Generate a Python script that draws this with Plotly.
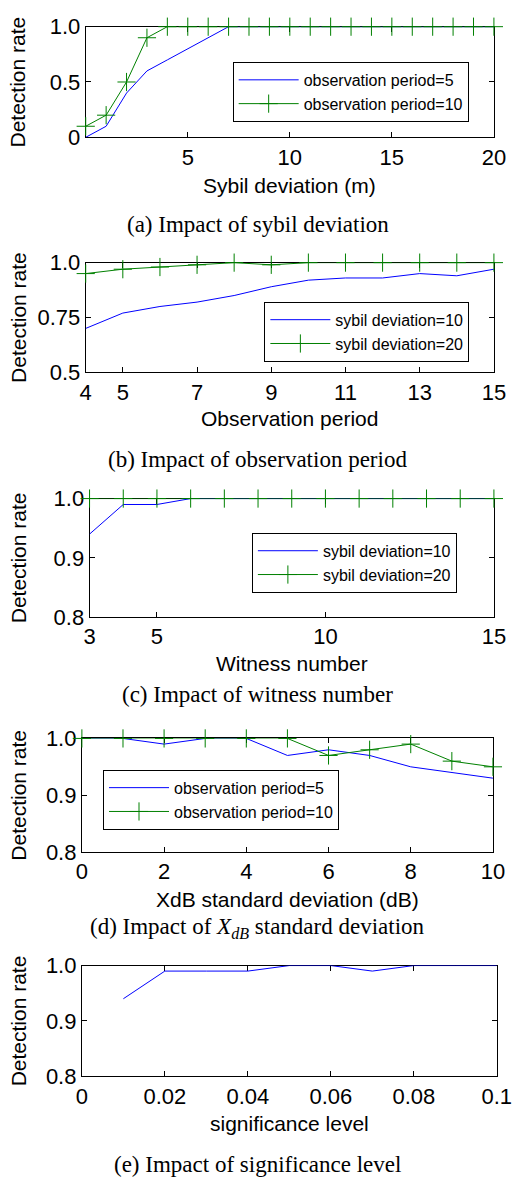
import plotly.graph_objects as go

W, H = 531, 1191

# ---------------- data ----------------
# (a) Impact of sybil deviation
a_x = list(range(0, 21))
a_period5 = [0.0, 0.1, 0.4, 0.6, 0.7, 0.8, 0.9, 1.0, 1.0, 1.0, 1.0, 1.0, 1.0, 1.0, 1.0, 1.0, 1.0, 1.0, 1.0, 1.0, 1.0]
a_period10 = [0.1, 0.2, 0.5, 0.9, 1.0, 1.0, 1.0, 1.0, 1.0, 1.0, 1.0, 1.0, 1.0, 1.0, 1.0, 1.0, 1.0, 1.0, 1.0, 1.0, 1.0]

# (b) Impact of observation period
b_x = list(range(4, 16))
b_dev10 = [0.70, 0.77, 0.80, 0.82, 0.85, 0.89, 0.92, 0.93, 0.93, 0.95, 0.94, 0.97]
b_dev20 = [0.95, 0.97, 0.98, 0.99, 1.00, 0.99, 1.00, 1.00, 1.00, 1.00, 1.00, 1.00]

# (c) Impact of witness number
c_x = list(range(3, 16))
c_dev10 = [0.94, 0.99, 0.99, 1.0, 1.0, 1.0, 1.0, 1.0, 1.0, 1.0, 1.0, 1.0, 1.0]
c_dev20 = [1.0] * 13

# (d) Impact of XdB standard deviation
d_x = list(range(0, 11))
d_period5 = [1.0, 1.0, 0.99, 1.0, 1.0, 0.97, 0.98, 0.97, 0.95, 0.94, 0.93]
d_period10 = [1.0, 1.0, 1.0, 1.0, 1.0, 1.0, 0.97, 0.98, 0.99, 0.96, 0.95]

# (e) Impact of significance level
e_x = [0.01, 0.02, 0.03, 0.04, 0.05, 0.06, 0.07, 0.08, 0.09, 0.10]
e_rate = [0.94, 0.99, 0.99, 0.99, 1.0, 1.0, 0.99, 1.0, 1.0, 1.0]

# tick labels
a_xticks = [5, 10, 15, 20]
a_yticks = [0, 0.5, 1.0]
a_ytext = ["0", "0.5", "1.0"]
b_xticks = [4, 5, 7, 9, 11, 13, 15]
b_yticks = [0.5, 0.75, 1.0]
b_ytext = ["0.5", "0.75", "1.0"]
c_xticks = [3, 5, 10, 15]
y89_ticks = [0.8, 0.9, 1.0]
y89_text = ["0.8", "0.9", "1.0"]
d_xticks = [0, 2, 4, 6, 8, 10]
e_xticks = [0, 0.02, 0.04, 0.06, 0.08, 0.1]
e_xtext = ["0", "0.02", "0.04", "0.06", "0.08", "0.1"]

BLUE = "rgb(0,0,255)"
GREEN = "rgb(0,128,0)"
SANS = "Liberation Sans, Arial, sans-serif"
SERIF = "Liberation Serif, Times New Roman, serif"

# plot-area pixel boxes (left, right, top, bottom)
boxes = [
    (83, 508, 15, 128),
    (83, 508, 256, 368),
    (87, 508, 497, 618),
    (79, 507, 742, 858),
    (79, 511, 974, 1087),
]


def px(x):
    return x / W


def py(y):
    return 1 - y / H


fig = go.Figure()


def blue_trace(x, y, name, i, legend):
    fig.add_trace(go.Scatter(
        x=x, y=y, name=name, mode="lines",
        line=dict(color=BLUE, width=1),
        xaxis="x" if i == 0 else f"x{i+1}", yaxis="y" if i == 0 else f"y{i+1}",
        legend=legend, showlegend=legend is not None, cliponaxis=False,
    ))


def green_trace(x, y, name, i, legend):
    fig.add_trace(go.Scatter(
        x=x, y=y, name=name, mode="lines+markers",
        line=dict(color=GREEN, width=1),
        marker=dict(symbol="cross-thin", size=13, color=GREEN, line=dict(color=GREEN, width=1)),
        xaxis="x" if i == 0 else f"x{i+1}", yaxis="y" if i == 0 else f"y{i+1}",
        legend=legend, showlegend=True, cliponaxis=False,
    ))


blue_trace(a_x, a_period5, "observation period=5", 0, "legend")
green_trace(a_x, a_period10, "observation period=10", 0, "legend")
blue_trace(b_x, b_dev10, "sybil deviation=10", 1, "legend2")
green_trace(b_x, b_dev20, "sybil deviation=20", 1, "legend2")
blue_trace(c_x, c_dev10, "sybil deviation=10", 2, "legend3")
green_trace(c_x, c_dev20, "sybil deviation=20", 2, "legend3")
blue_trace(d_x, d_period5, "observation period=5", 3, "legend4")
green_trace(d_x, d_period10, "observation period=10", 3, "legend4")
fig.add_trace(go.Scatter(
    x=e_x, y=e_rate, mode="lines", line=dict(color=BLUE, width=1),
    xaxis="x5", yaxis="y5", showlegend=False, cliponaxis=False,
))

xranges = [[0, 20], [4, 15], [3, 15], [0, 10], [0, 0.1]]
yranges = [[0, 1], [0.5, 1], [0.8, 1], [0.8, 1], [0.8, 1]]
xtv = [a_xticks, b_xticks, c_xticks, d_xticks, e_xticks]
xtt = [[str(v) for v in a_xticks], [str(v) for v in b_xticks], [str(v) for v in c_xticks],
       [str(v) for v in d_xticks], e_xtext]
ytv = [a_yticks, b_yticks, y89_ticks, y89_ticks, y89_ticks]
ytt = [a_ytext, b_ytext, y89_text, y89_text, y89_text]

layout = dict(
    width=W, height=H, margin=dict(l=0, r=0, t=0, b=0),
    paper_bgcolor="white", plot_bgcolor="white",
    font=dict(family=SANS, color="black"),
    hovermode=False,
)

axis_common = dict(
    showgrid=False, zeroline=False, showline=True, linecolor="black", linewidth=1,
    mirror="ticks", ticks="inside", ticklen=5, tickcolor="black",
    tickfont=dict(family=SANS, size=22, color="black"),
    layer="below traces",
)

for i, (l, r, t, b) in enumerate(boxes):
    sfx = "" if i == 0 else str(i + 1)
    layout["xaxis" + sfx] = dict(
        axis_common, domain=[px(l), px(r)], range=xranges[i],
        tickmode="array", tickvals=xtv[i], ticktext=xtt[i],
        anchor="y" + sfx,
    )
    layout["yaxis" + sfx] = dict(
        axis_common, domain=[py(b), py(t)], range=yranges[i],
        tickmode="array", tickvals=ytv[i], ticktext=ytt[i],
        anchor="x" + sfx,
    )

legend_common = dict(
    bgcolor="white", bordercolor="black", borderwidth=1,
    font=dict(family=SANS, size=16, color="black"),
    xanchor="left", yanchor="top", itemwidth=60, tracegroupgap=0,
)
layout["legend"] = dict(legend_common, x=px(236), y=py(51))
layout["legend2"] = dict(legend_common, x=px(269), y=py(296))
layout["legend3"] = dict(legend_common, x=px(256), y=py(532))
layout["legend4"] = dict(legend_common, x=px(101), y=py(774))

fig.update_layout(**layout)

xtitles = ["Sybil deviation (m)", "Observation period", "Witness number",
           "XdB standard deviation (dB)", "significance level"]
xtitle_y = [177, 415, 665, 907, 1135]
captions = ["(a) Impact of sybil deviation", "(b) Impact of observation period",
            "(c) Impact of witness number",
            "(d) Impact of <i>X</i><sub><i>dB</i></sub> standard deviation",
            "(e) Impact of significance level"]
caption_y = [217, 457, 697, 936, 1177]

for i, (l, r, t, b) in enumerate(boxes):
    fig.add_annotation(
        text=xtitles[i], xref="paper", yref="paper",
        x=px((l + r) / 2), y=py(xtitle_y[i]), xanchor="center", yanchor="middle",
        showarrow=False, font=dict(family=SANS, size=21, color="black"),
    )
    fig.add_annotation(
        text="Detection rate", xref="paper", yref="paper",
        x=px(13), y=py((t + b) / 2), xanchor="center", yanchor="middle",
        textangle=-90, showarrow=False, font=dict(family=SANS, size=21, color="black"),
    )
    fig.add_annotation(
        text=captions[i], xref="paper", yref="paper",
        x=px(262), y=py(caption_y[i]), xanchor="center", yanchor="middle",
        showarrow=False, font=dict(family=SERIF, size=23, color="black"),
    )

fig.write_html(
    "out.html",
    config={"displayModeBar": False, "staticPlot": True},
    post_script="document.body.style.margin='0';document.body.style.overflow='hidden';",
)
